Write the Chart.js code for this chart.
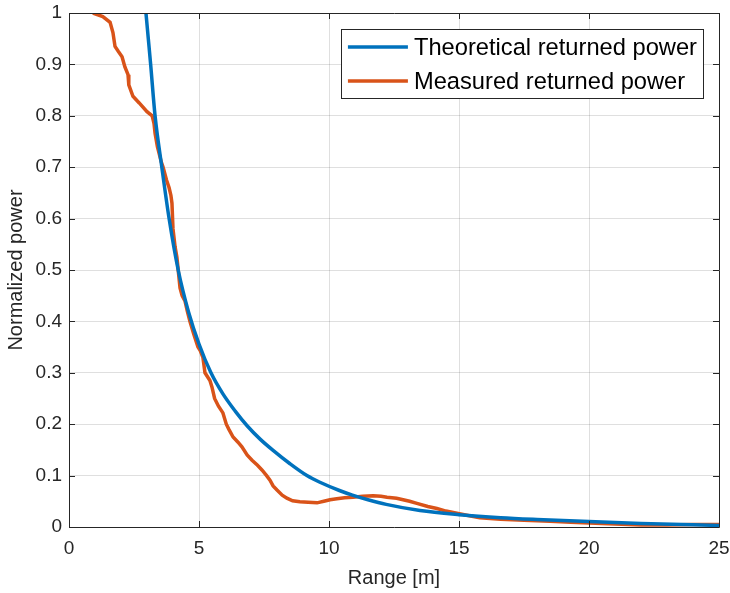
<!DOCTYPE html>
<html>
<head>
<meta charset="utf-8">
<script src="https://cdn.jsdelivr.net/npm/chart.js@4/dist/chart.umd.min.js"></script>
<style>
  html, body { margin: 0; padding: 0; background: #ffffff; }
  #wrap { width: 730px; height: 593px; position: relative; }
</style>
</head>
<body>
<div id="wrap"><canvas id="c" width="730" height="593"></canvas></div>
<script>
// ---- data ----
const seriesNames = ["Theoretical returned power", "Measured returned power"];
const xTicks = [0, 5, 10, 15, 20, 25];
const yTicks = [0, 0.1, 0.2, 0.3, 0.4, 0.5, 0.6, 0.7, 0.8, 0.9, 1];

const theoRange = [2.96, 3.05, 3.14, 3.31, 3.57, 3.85, 4.2, 4.6, 5.0, 5.46, 5.92, 6.4, 6.85, 7.35, 7.85, 8.5, 9.15, 9.65, 10.4, 10.9, 11.5, 12.2, 13.5, 15.0, 16.6, 18.0, 20.0, 22.0, 25.0];
const theoPower = [1.0, 0.95, 0.9, 0.8, 0.7, 0.6, 0.5, 0.418, 0.356, 0.3, 0.259, 0.225, 0.197, 0.171, 0.149, 0.123, 0.1, 0.087, 0.071, 0.062, 0.053, 0.044, 0.032, 0.024, 0.018, 0.0145, 0.0105, 0.007, 0.003];

const measRange = [0.92, 1.3, 1.58, 1.69, 1.77, 1.9, 2.04, 2.15, 2.27, 2.3, 2.46, 2.7, 3.0, 3.2, 3.27, 3.31, 3.4, 3.55, 3.62, 3.75, 3.85, 3.92, 3.96, 4.0, 4.08, 4.15, 4.2, 4.27, 4.35, 4.46, 4.55, 4.65, 4.8, 4.96, 5.04, 5.15, 5.23, 5.42, 5.5, 5.6, 5.75, 5.92, 6.05, 6.15, 6.31, 6.5, 6.65, 6.85, 7.04, 7.25, 7.42, 7.6, 7.73, 7.85, 8.0, 8.2, 8.38, 8.6, 8.88, 9.2, 9.54, 9.8, 10.04, 10.3, 10.6, 10.92, 11.3, 11.7, 12.0, 12.23, 12.6, 12.85, 13.1, 13.38, 13.8, 14.15, 14.5, 14.92, 15.4, 15.8, 16.6, 17.5, 18.5, 19.3, 20.0, 21.0, 22.0, 23.0, 24.0, 25.0];
const measPower = [1.0, 0.993, 0.982, 0.962, 0.935, 0.925, 0.915, 0.895, 0.88, 0.86, 0.838, 0.825, 0.808, 0.8, 0.785, 0.766, 0.74, 0.71, 0.7, 0.675, 0.66, 0.645, 0.63, 0.58, 0.545, 0.525, 0.5, 0.465, 0.45, 0.44, 0.42, 0.4, 0.375, 0.35, 0.344, 0.33, 0.3, 0.285, 0.272, 0.25, 0.235, 0.222, 0.2, 0.19, 0.175, 0.165, 0.156, 0.14, 0.13, 0.12, 0.111, 0.1, 0.091, 0.08, 0.072, 0.062, 0.056, 0.051, 0.049, 0.048, 0.047, 0.05, 0.053, 0.055, 0.057, 0.058, 0.06, 0.061, 0.06, 0.058, 0.056, 0.053, 0.05, 0.046, 0.04, 0.036, 0.031, 0.027, 0.022, 0.018, 0.015, 0.013, 0.011, 0.009, 0.008, 0.006, 0.004, 0.004, 0.005, 0.005];

// ---- styling ----
const FONT = '"Liberation Sans", Arial, Helvetica, sans-serif';
const AXIS_COLOR = '#262626';
const GRID_COLOR = 'rgba(38,38,38,0.15)';
const BLUE = '#0072BD';
const ORANGE = '#D95319';

const toPoints = (xs, ys) => xs.map((x, i) => ({ x: x, y: ys[i] }));

// frame + inward ticks (MATLAB box style)
const framePlugin = {
  id: 'frame',
  afterDatasetsDraw(chart) {
    const { ctx, chartArea: a, scales } = chart;
    ctx.save();
    ctx.strokeStyle = AXIS_COLOR;
    ctx.lineWidth = 1;
    ctx.beginPath();
    ctx.rect(Math.round(a.left) + 0.5, Math.round(a.top) + 0.5, Math.round(a.right - a.left), Math.round(a.bottom - a.top));
    ctx.stroke();
    const L = 6;
    ctx.beginPath();
    xTicks.forEach(v => {
      const px = Math.round(scales.x.getPixelForValue(v)) + 0.5;
      ctx.moveTo(px, a.bottom); ctx.lineTo(px, a.bottom - L);
      ctx.moveTo(px, a.top); ctx.lineTo(px, a.top + L);
    });
    yTicks.forEach(v => {
      const py = Math.round(scales.y.getPixelForValue(v)) + 0.5;
      ctx.moveTo(a.left, py); ctx.lineTo(a.left + L, py);
      ctx.moveTo(a.right, py); ctx.lineTo(a.right - L, py);
    });
    ctx.stroke();
    ctx.restore();
  }
};

// legend box inside the axes, top-right
const legendPlugin = {
  id: 'boxLegend',
  afterDraw(chart) {
    const { ctx, chartArea: a } = chart;
    const ds = chart.data.datasets;
    ctx.save();
    ctx.font = '23.7px ' + FONT;
    const textW = Math.max(...ds.map(d => ctx.measureText(d.label).width));
    const lineLen = 60, padL = 7, gap = 6, padR = 6, rowH = 34, padT = 1;
    const w = padL + lineLen + gap + textW + padR;
    const h = rowH * ds.length + padT;
    const right = a.right - 16;
    const left = right - w;
    const top = a.top + 16;
    ctx.fillStyle = '#ffffff';
    ctx.fillRect(left, top, w, h);
    ctx.strokeStyle = AXIS_COLOR;
    ctx.lineWidth = 1;
    ctx.strokeRect(Math.round(left) + 0.5, Math.round(top) + 0.5, Math.round(w), Math.round(h));
    ds.forEach((d, i) => {
      const cy = top + padT + rowH * i + rowH / 2;
      ctx.strokeStyle = d.borderColor;
      ctx.lineWidth = 3.5;
      ctx.beginPath();
      ctx.moveTo(left + padL, cy);
      ctx.lineTo(left + padL + lineLen, cy);
      ctx.stroke();
      ctx.fillStyle = '#000000';
      ctx.textBaseline = 'middle';
      ctx.textAlign = 'left';
      ctx.fillText(d.label, left + padL + lineLen + gap, cy + 1);
    });
    ctx.restore();
  }
};

new Chart(document.getElementById('c'), {
  type: 'line',
  data: {
    datasets: [
      {
        label: seriesNames[0],
        data: toPoints(theoRange, theoPower),
        borderColor: BLUE,
        backgroundColor: BLUE,
        borderWidth: 3.5,
        pointRadius: 0,
        cubicInterpolationMode: 'monotone',
        fill: false
      },
      {
        label: seriesNames[1],
        data: toPoints(measRange, measPower),
        borderColor: ORANGE,
        backgroundColor: ORANGE,
        borderWidth: 3.5,
        pointRadius: 0,
        tension: 0,
        fill: false
      }
    ]
  },
  options: {
    responsive: false,
    animation: false,
    events: [],
    clip: true,
    layout: { padding: { left: 0, top: 13, right: 11, bottom: 0 } },
    plugins: {
      legend: { display: false },
      tooltip: { enabled: false },
      title: { display: false }
    },
    scales: {
      x: {
        type: 'linear',
        min: 0, max: 25,
        afterBuildTicks: s => { s.ticks = xTicks.map(v => ({ value: v })); },
        afterFit: s => { s.height = 66; s.paddingLeft = 0; s.paddingRight = 0; },
        border: { display: false },
        grid: { color: GRID_COLOR, lineWidth: 1, drawTicks: false },
        ticks: {
          color: AXIS_COLOR, padding: 10, maxRotation: 0,
          font: { family: FONT, size: 19 },
          callback: v => String(v)
        },
        title: {
          display: true, text: 'Range [m]', color: AXIS_COLOR,
          font: { family: FONT, size: 20 }, padding: { top: 0, bottom: 3 }
        }
      },
      y: {
        type: 'linear',
        min: 0, max: 1,
        afterBuildTicks: s => { s.ticks = yTicks.map(v => ({ value: v })); },
        afterFit: s => { s.width = 69; s.paddingTop = 0; s.paddingBottom = 0; },
        border: { display: false },
        grid: { color: GRID_COLOR, lineWidth: 1, drawTicks: false },
        ticks: {
          color: AXIS_COLOR, padding: 7,
          font: { family: FONT, size: 19 },
          callback: v => String(Math.round(v * 10) / 10)
        },
        title: {
          display: true, text: 'Normalized power', color: AXIS_COLOR,
          font: { family: FONT, size: 20 }, padding: { top: 4, bottom: 0 }
        }
      }
    }
  },
  plugins: [framePlugin, legendPlugin]
});
</script>
</body>
</html>
